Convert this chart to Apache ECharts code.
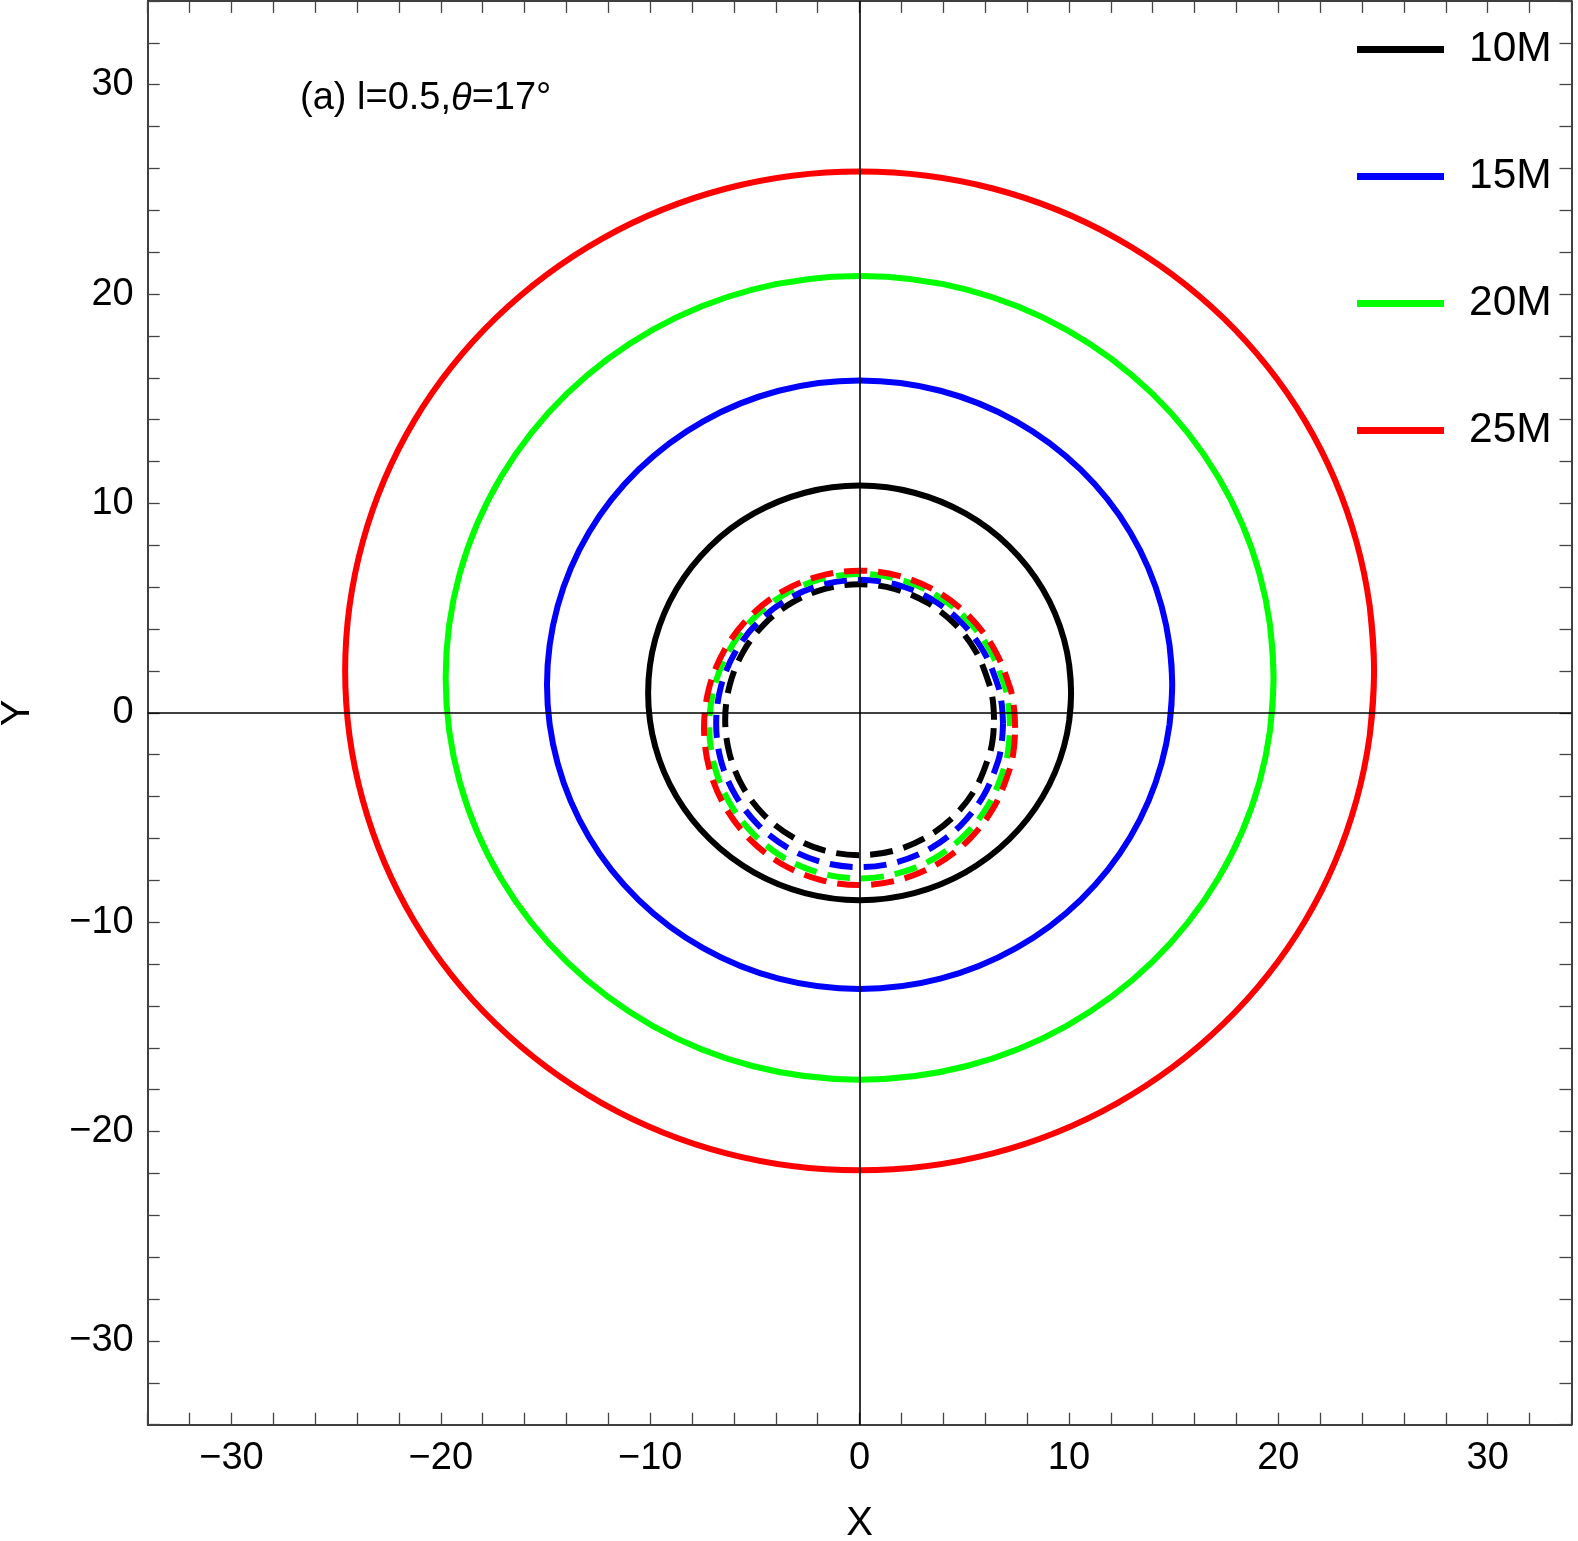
<!DOCTYPE html>
<html>
<head>
<meta charset="utf-8">
<script src="https://cdn.jsdelivr.net/npm/echarts@6/dist/echarts.min.js"></script>
<style>
html,body{margin:0;padding:0;background:#fff;}
#chart{width:1578px;height:1541px;}
</style>
</head>
<body>
<div id="chart"></div>
<script>
// ---- data ----
const radii = ['10M', '15M', '20M', '25M'];
const xTickLabels = [-30, -20, -10, 0, 10, 20, 30];
const yTickLabels = [-30, -20, -10, 0, 10, 20, 30];

// direct (solid) images; each loop overlaps its start slightly so it closes smoothly
const direct10 = [[10.01,-0.34],[10.1,0.95],[9.76,3.51],[8.75,5.90],[7.14,7.95],[5.05,9.52],[2.61,10.51],[0,10.85],[-2.61,10.51],[-5.05,9.52],[-7.14,7.95],[-8.75,5.90],[-9.76,3.51],[-10.1,0.95],[-9.76,-1.61],[-8.75,-4.00],[-7.14,-6.05],[-5.05,-7.62],[-2.61,-8.61],[0,-8.95],[2.61,-8.61],[5.05,-7.62],[7.14,-6.05],[8.75,-4.00],[9.76,-1.61],[10.1,0.95],[10.01,2.24]];
const direct15 = [[14.80,-0.56],[14.93,1.34],[14.42,5.10],[12.93,8.61],[10.56,11.61],[7.47,13.92],[3.86,15.38],[0,15.87],[-3.86,15.38],[-7.47,13.92],[-10.56,11.61],[-12.93,8.61],[-14.42,5.10],[-14.93,1.34],[-14.42,-2.42],[-12.93,-5.93],[-10.56,-8.93],[-7.47,-11.24],[-3.86,-12.70],[0,-13.19],[3.86,-12.70],[7.47,-11.24],[10.56,-8.93],[12.93,-5.93],[14.42,-2.42],[14.93,1.34],[14.80,3.24]];
const direct20 = [[19.60,-0.83],[19.77,1.67],[19.10,6.64],[17.12,11.27],[13.98,15.24],[9.89,18.29],[5.12,20.21],[0,20.86],[-5.12,20.21],[-9.89,18.29],[-13.98,15.24],[-17.12,11.27],[-19.10,6.64],[-19.77,1.67],[-19.10,-3.30],[-17.12,-7.93],[-13.98,-11.90],[-9.89,-14.95],[-5.12,-16.87],[0,-17.52],[5.12,-16.87],[9.89,-14.95],[13.98,-11.90],[17.12,-7.93],[19.10,-3.30],[19.77,1.67],[19.60,4.17]];
const direct25 = [[24.36,-1.11],[24.57,2.0],[23.73,8.17],[21.28,13.93],[17.37,18.86],[12.29,22.65],[6.36,25.04],[0,25.85],[-6.36,25.04],[-12.29,22.65],[-17.37,18.86],[-21.28,13.93],[-23.73,8.17],[-24.57,2.0],[-23.73,-4.17],[-21.28,-9.93],[-17.37,-14.86],[-12.29,-18.65],[-6.36,-21.04],[0,-21.85],[6.36,-21.04],[12.29,-18.65],[17.37,-14.86],[21.28,-9.93],[23.73,-4.17],[24.57,2.0],[24.36,5.11]];

// secondary (dashed) images
const second10 = [[6.42,-0.33],[6.37,0.52],[6.20,1.34],[5.56,2.91],[4.54,4.25],[3.21,5.27],[1.66,5.92],[0,6.14],[-1.66,5.92],[-3.21,5.27],[-4.54,4.25],[-5.56,2.91],[-6.20,1.34],[-6.42,-0.33],[-6.20,-2.00],[-5.56,-3.57],[-4.54,-4.91],[-3.21,-5.93],[-1.66,-6.58],[0,-6.80],[1.66,-6.58],[3.21,-5.93],[4.54,-4.91],[5.56,-3.57],[6.20,-2.00],[6.37,-1.18],[6.42,-0.33]];
const second15 = [[6.85,-0.51],[6.79,0.39],[6.62,1.27],[5.93,2.92],[4.84,4.34],[3.43,5.43],[1.77,6.12],[0,6.35],[-1.77,6.12],[-3.43,5.43],[-4.84,4.34],[-5.93,2.92],[-6.62,1.27],[-6.85,-0.51],[-6.62,-2.29],[-5.93,-3.94],[-4.84,-5.36],[-3.43,-6.45],[-1.77,-7.14],[0,-7.37],[1.77,-7.14],[3.43,-6.45],[4.84,-5.36],[5.93,-3.94],[6.62,-2.29],[6.79,-1.41],[6.85,-0.51]];
const second20 = [[7.18,-0.64],[7.12,0.31],[6.94,1.24],[6.22,3.00],[5.08,4.50],[3.59,5.66],[1.86,6.38],[0,6.63],[-1.86,6.38],[-3.59,5.66],[-5.08,4.50],[-6.22,3.00],[-6.94,1.24],[-7.18,-0.64],[-6.94,-2.52],[-6.22,-4.28],[-5.08,-5.78],[-3.59,-6.94],[-1.86,-7.66],[0,-7.91],[1.86,-7.66],[3.59,-6.94],[5.08,-5.78],[6.22,-4.28],[6.94,-2.52],[7.12,-1.59],[7.18,-0.64]];
const second25 = [[7.43,-0.72],[7.37,0.26],[7.18,1.22],[6.43,3.04],[5.25,4.59],[3.72,5.78],[1.92,6.53],[0,6.79],[-1.92,6.53],[-3.72,5.78],[-5.25,4.59],[-6.43,3.04],[-7.18,1.22],[-7.43,-0.72],[-7.18,-2.66],[-6.43,-4.48],[-5.25,-6.03],[-3.72,-7.22],[-1.92,-7.97],[0,-8.23],[1.92,-7.97],[3.72,-7.22],[5.25,-6.03],[6.43,-4.48],[7.18,-2.66],[7.37,-1.70],[7.43,-0.72]];

const annotation = '(a) l=0.5,{i|\u03b8}=17\u00b0';

// ---- styles ----
const colors = ['#000000', '#0000ff', '#00ff00', '#ff0000'];
const FONT = 'Liberation Sans';
const directData = [direct10, direct15, direct20, direct25];
const secondData = [second10, second15, second20, second25];

function fmt(v) {
  if (xTickLabels.indexOf(v) < 0 && yTickLabels.indexOf(v) < 0) return '';
  return v < 0 ? '\u2212' + (-v) : String(v);
}

const axisBase = {
  type: 'value', min: -34, max: 34, interval: 2,
  splitLine: { show: false },
  axisLine: { show: true, onZero: false, lineStyle: { color: '#000', width: 1.5 } },
  axisTick: { show: true, inside: true, length: 12, lineStyle: { color: '#444', width: 1.3 } }
};
const xLabelStyle = { show: true, formatter: fmt, fontSize: 38, color: '#000', fontFamily: FONT, margin: 15 };
const yLabelStyle = { show: true, formatter: fmt, fontSize: 38, color: '#000', fontFamily: FONT, margin: 14 };

const series = [];
directData.forEach((d, i) => {
  series.push({
    type: 'line', name: radii[i], data: d, smooth: 0.34, symbol: 'none',
    lineStyle: { color: colors[i], width: 6, type: 'solid' },
    itemStyle: { color: colors[i] }, z: 2, silent: true
  });
});
secondData.forEach((d, i) => {
  series.push({
    type: 'line', name: radii[i] + ' secondary', data: d, smooth: 0.34, symbol: 'none',
    lineStyle: { color: colors[i], width: 6, type: [23, 11] },
    itemStyle: { color: colors[i] }, z: 3, silent: true
  });
});
series.push({
  type: 'line', name: 'axes', data: [], silent: true, z: 6,
  markLine: {
    silent: true, symbol: ['none', 'none'], label: { show: false },
    lineStyle: { color: '#000', width: 1.6, type: 'solid' },
    emphasis: { disabled: true },
    data: [{ xAxis: 0 }, { yAxis: 0 }]
  }
});

const chart = echarts.init(document.getElementById('chart'), null, { renderer: 'canvas' });
chart.setOption({
  animation: false,
  backgroundColor: '#ffffff',
  grid: { left: 147.7, right: 6.5, top: 0.9, bottom: 116.3, containLabel: false, outerBoundsMode: 'none' },
  title: {
    text: annotation, left: 300, top: 80, padding: 0,
    textStyle: { fontSize: 38, fontWeight: 'normal', color: '#000', fontFamily: FONT,
      rich: { i: { fontStyle: 'italic', fontSize: 38, fontFamily: FONT, color: '#000' } } }
  },
  legend: {
    data: radii, orient: 'vertical', left: 1357, top: 28, padding: 0,
    itemWidth: 87, itemHeight: 7, itemGap: 84, icon: 'rect', selectedMode: false,
    textStyle: { fontSize: 42.5, color: '#000', fontFamily: FONT, padding: [0, 0, 0, 20] }
  },
  xAxis: [
    Object.assign({}, axisBase, { position: 'bottom', axisLabel: xLabelStyle,
      name: 'X', nameLocation: 'middle', nameGap: 79,
      nameTextStyle: { fontSize: 40, color: '#000', fontFamily: FONT } }),
    Object.assign({}, axisBase, { position: 'top', axisLabel: { show: false } })
  ],
  yAxis: [
    Object.assign({}, axisBase, { position: 'left', axisLabel: yLabelStyle,
      name: 'Y', nameLocation: 'middle', nameGap: 110, nameRotate: 90,
      nameTextStyle: { fontSize: 40, color: '#000', fontFamily: FONT } }),
    Object.assign({}, axisBase, { position: 'right', axisLabel: { show: false } })
  ],
  series: series
});
</script>
</body>
</html>
